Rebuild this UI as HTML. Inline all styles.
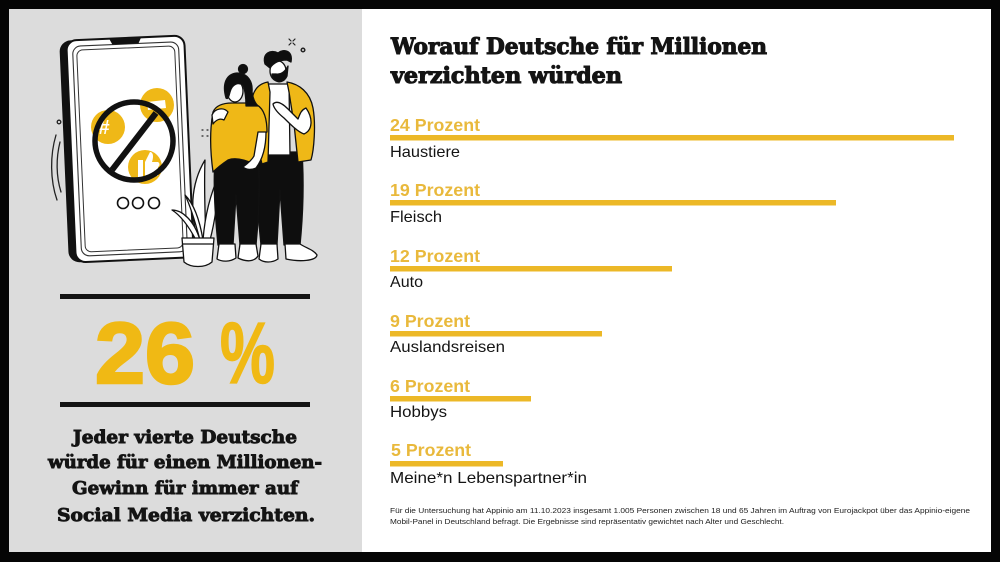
<!DOCTYPE html>
<html>
<head>
<meta charset="utf-8">
<style>
html,body{margin:0;padding:0;background:#000;width:1000px;height:562px;overflow:hidden;}
svg{display:block;}
</style>
</head>
<body>
<svg width="1000" height="562" viewBox="0 0 1000 562" xmlns="http://www.w3.org/2000/svg">
  <rect x="0" y="0" width="1000" height="562" fill="#050505"/>
  <rect x="9" y="9" width="353" height="543" fill="#dcdcdc"/>
  <rect x="362" y="9" width="629" height="543" fill="#ffffff"/>

  <!-- ========== Illustration ========== -->
  <g fill="none" stroke="#222" stroke-width="1.3" stroke-linecap="round">
    <path d="M56,135 C50,155 50,180 57,200"/>
    <path d="M60,142 C56,158 56,176 61,192"/>
    <circle cx="59" cy="122" r="1.8"/>
  </g>

  <!-- phone -->
  <g transform="rotate(-2.5 128 149)">
    <rect x="64" y="38" width="124" height="222" rx="11" fill="#111"/>
    <rect x="71" y="38" width="118" height="222" rx="10" fill="#fff" stroke="#111" stroke-width="2"/>
    <rect x="77" y="44" width="106" height="210" rx="8" fill="none" stroke="#333" stroke-width="1.1"/>
    <rect x="81" y="48" width="98" height="202" rx="6" fill="none" stroke="#333" stroke-width="1"/>
    <path d="M114,38 L146,38 L143,44 L117,44 Z" fill="#111"/>
  </g>

  <!-- social icons -->
  <circle cx="108" cy="127" r="17" fill="#efb817"/>
  <circle cx="157" cy="105" r="17" fill="#efb817"/>
  <circle cx="145" cy="167" r="17" fill="#efb817"/>
  <text x="104" y="134" font-family="Liberation Sans, sans-serif" font-weight="bold" font-size="20" fill="#fff" text-anchor="middle">#</text>
  <path d="M147,102 L165,100 L166,108 L148,110 Z" fill="#fff"/>
  <path d="M138,160 L143,160 L143,178 L138,178 Z M145,162 L150,152 C153,152 154,156 152,162 L158,162 C160,163 160,166 158,167 L158,176 L145,176 Z" fill="#fff"/>
  <circle cx="134" cy="141" r="39" fill="none" stroke="#111" stroke-width="5.5"/>
  <line x1="156" y1="113" x2="112" y2="170" stroke="#111" stroke-width="6"/>

  <g fill="#fff" stroke="#111" stroke-width="1.6">
    <circle cx="123" cy="203" r="5.5"/>
    <circle cx="138" cy="203" r="5.5"/>
    <circle cx="154" cy="203" r="5.5"/>
  </g>

  <g stroke="#222" stroke-width="1.2" fill="none" stroke-linecap="round">
    <path d="M289,39 L291,41 M295,39 L293,41 M289,45 L291,43 M295,45 L293,43"/>
    <circle cx="303" cy="50" r="1.8" stroke-width="1.5"/>
    <path d="M202,130 L203,130 M207,130 L208,130 M202,136 L203,136 M207,136 L208,136"/>
  </g>

  <!-- plant -->
  <g fill="#fff" stroke="#111" stroke-width="1.3" stroke-linejoin="round">
    <path d="M198,240 C190,215 190,185 205,160 C204,185 205,215 206,240 Z"/>
    <path d="M203,240 C205,215 210,195 220,172 C218,200 214,225 210,240 Z"/>
    <path d="M196,240 C188,225 180,215 172,210 C182,210 194,220 200,240 Z"/>
    <path d="M200,240 C196,225 190,205 185,195 C195,205 200,222 203,240 Z"/>
    <path d="M182,238 L214,238 L212,262 C205,268 191,268 184,262 Z"/>
    <line x1="182" y1="244" x2="214" y2="244"/>
  </g>

  <!-- man (behind) -->
  <g stroke="#111" stroke-width="1.3" stroke-linejoin="round">
    <path d="M257,152 L302,152 C304,182 303,215 300,245 L284,245 L280,190 L277,245 L261,245 C258,215 255,182 257,152 Z" fill="#0e0e0e"/>
    <path d="M261,244 L277,244 L278,259 C272,263 264,263 259,259 Z" fill="#fff"/>
    <path d="M285,244 L300,244 C306,248 314,250 317,255 C316,261 300,262 286,259 Z" fill="#fff"/>
    <path d="M265,84 L289,84 L290,155 L264,155 Z" fill="#fff"/>
    <path d="M253,95 C256,86 262,83 268,82 L270,92 L268,162 L262,164 C256,140 252,115 253,95 Z" fill="#efb817"/>
    <path d="M287,82 C299,84 310,92 313,108 C316,125 314,150 311,160 L298,162 L294,124 L289,92 Z" fill="#efb817"/>
    <path d="M306,108 C313,118 313,130 304,134 C298,132 290,124 284,118 C279,114 274,109 273,104 C277,100 283,104 288,109 L298,119 C300,114 301,110 306,108 Z" fill="#fff"/>
    <ellipse cx="278" cy="71" rx="8" ry="10" fill="#fff"/>
    <path d="M265,64 C262,53 271,49 278,53 C284,48 293,51 291,62 L287,60 C281,60 274,62 270,68 Z" fill="#0e0e0e"/>
    <path d="M272,74 C273,83 283,85 287,76 L288,66 C285,72 280,75 276,74 Z" fill="#0e0e0e"/>
  </g>

  <!-- woman (front) -->
  <g stroke="#111" stroke-width="1.3" stroke-linejoin="round">
    <path d="M215,160 C228,156 244,155 258,152 C260,180 259,215 256,245 L240,245 L236,195 L233,245 L218,245 C215,215 213,185 215,160 Z" fill="#0e0e0e"/>
    <path d="M219,244 L235,244 L236,258 C230,262 222,262 217,259 Z" fill="#fff"/>
    <path d="M240,244 L256,244 L258,256 C254,262 246,262 238,258 Z" fill="#fff"/>
    <path d="M213,112 C216,105 224,103 232,103 L252,103 C262,105 267,115 267,132 L258,134 L256,165 C246,160 236,157 228,160 C222,164 217,168 213,172 C210,150 210,128 213,112 Z" fill="#efb817"/>
    <path d="M258,132 L266,132 C266,148 262,160 256,168 C252,170 246,170 243,167 C247,164 252,160 254,156 Z" fill="#fff"/>
    <path d="M212,115 C215,108 224,107 228,112 L224,120 C220,118 216,120 213,124 Z" fill="#fff"/>
    <ellipse cx="235" cy="91" rx="8" ry="11" fill="#fff"/>
    <path d="M226,98 C222,84 226,74 237,73 C248,73 253,82 252,92 C253,100 256,104 258,106 L246,106 C246,98 245,90 243,85 C238,82 232,84 230,92 C229,96 228,100 226,98 Z" fill="#0e0e0e"/>
    <circle cx="243" cy="69" r="4.5" fill="#0e0e0e"/>
  </g>

  <!-- ========== Left stat block ========== -->
  <rect x="60" y="294" width="250" height="5" fill="#141414"/>
  <text x="95" y="383" font-family="Liberation Sans, sans-serif" font-weight="bold" font-size="86" fill="#f0b914" stroke="#f0b914" stroke-width="2.5" textLength="100" lengthAdjust="spacingAndGlyphs">26</text>
  <text x="220" y="383" font-family="Liberation Sans, sans-serif" font-weight="bold" font-size="86" fill="#f0b914" stroke="#f0b914" stroke-width="1.5" textLength="55" lengthAdjust="spacingAndGlyphs">%</text>
  <rect x="60" y="402" width="250" height="5" fill="#141414"/>

  <g font-family="DejaVu Serif, Liberation Serif, serif" font-weight="bold" font-size="18" fill="#141414" stroke="#141414" stroke-width="0.9" text-anchor="middle">
    <text x="185" y="443" textLength="224" lengthAdjust="spacingAndGlyphs">Jeder vierte Deutsche</text>
    <text x="185" y="468" textLength="274" lengthAdjust="spacingAndGlyphs">würde für einen Millionen-</text>
    <text x="185" y="494" textLength="226" lengthAdjust="spacingAndGlyphs">Gewinn für immer auf</text>
    <text x="186" y="521" textLength="258" lengthAdjust="spacingAndGlyphs">Social Media verzichten.</text>
  </g>

  <!-- ========== Right chart ========== -->
  <g font-family="DejaVu Serif, Liberation Serif, serif" font-weight="bold" font-size="22" fill="#141414" stroke="#141414" stroke-width="1.1">
    <text x="391" y="54" textLength="376" lengthAdjust="spacingAndGlyphs">Worauf Deutsche für Millionen</text>
    <text x="391" y="83" textLength="231" lengthAdjust="spacingAndGlyphs">verzichten würden</text>
  </g>

  <g fill="#ecb827">
    <rect x="390" y="135" width="564" height="5.5"/>
    <rect x="390" y="200" width="446" height="5.5"/>
    <rect x="390" y="266" width="282" height="5.5"/>
    <rect x="390" y="331" width="212" height="5.5"/>
    <rect x="390" y="396" width="141" height="5.5"/>
    <rect x="390" y="461" width="113" height="5.5"/>
  </g>

  <g font-family="Liberation Sans, sans-serif" font-weight="bold" font-size="17.5" fill="#e9b93c">
    <text x="390" y="131" textLength="90" lengthAdjust="spacingAndGlyphs">24 Prozent</text>
    <text x="390" y="196" textLength="90" lengthAdjust="spacingAndGlyphs">19 Prozent</text>
    <text x="390" y="262" textLength="90" lengthAdjust="spacingAndGlyphs">12 Prozent</text>
    <text x="390" y="327" textLength="80" lengthAdjust="spacingAndGlyphs">9 Prozent</text>
    <text x="390" y="392" textLength="80" lengthAdjust="spacingAndGlyphs">6 Prozent</text>
    <text x="391" y="456" textLength="80" lengthAdjust="spacingAndGlyphs">5 Prozent</text>
  </g>

  <g font-family="Liberation Sans, sans-serif" font-size="16" fill="#141414">
    <text x="390" y="157" textLength="70" lengthAdjust="spacingAndGlyphs">Haustiere</text>
    <text x="390" y="222" textLength="52" lengthAdjust="spacingAndGlyphs">Fleisch</text>
    <text x="390" y="287" textLength="33" lengthAdjust="spacingAndGlyphs">Auto</text>
    <text x="390" y="352" textLength="115" lengthAdjust="spacingAndGlyphs">Auslandsreisen</text>
    <text x="390" y="417" textLength="57" lengthAdjust="spacingAndGlyphs">Hobbys</text>
    <text x="390" y="483" textLength="197" lengthAdjust="spacingAndGlyphs">Meine*n Lebenspartner*in</text>
  </g>

  <g font-family="Liberation Sans, sans-serif" font-size="7.5" fill="#222">
    <text x="390" y="513" textLength="580" lengthAdjust="spacingAndGlyphs">Für die Untersuchung hat Appinio am 11.10.2023 insgesamt 1.005 Personen zwischen 18 und 65 Jahren  im Auftrag von Eurojackpot über das Appinio-eigene</text>
    <text x="390" y="524" textLength="394" lengthAdjust="spacingAndGlyphs">Mobil-Panel in Deutschland befragt. Die Ergebnisse sind repräsentativ gewichtet nach Alter und Geschlecht.</text>
  </g>
</svg>
</body>
</html>
